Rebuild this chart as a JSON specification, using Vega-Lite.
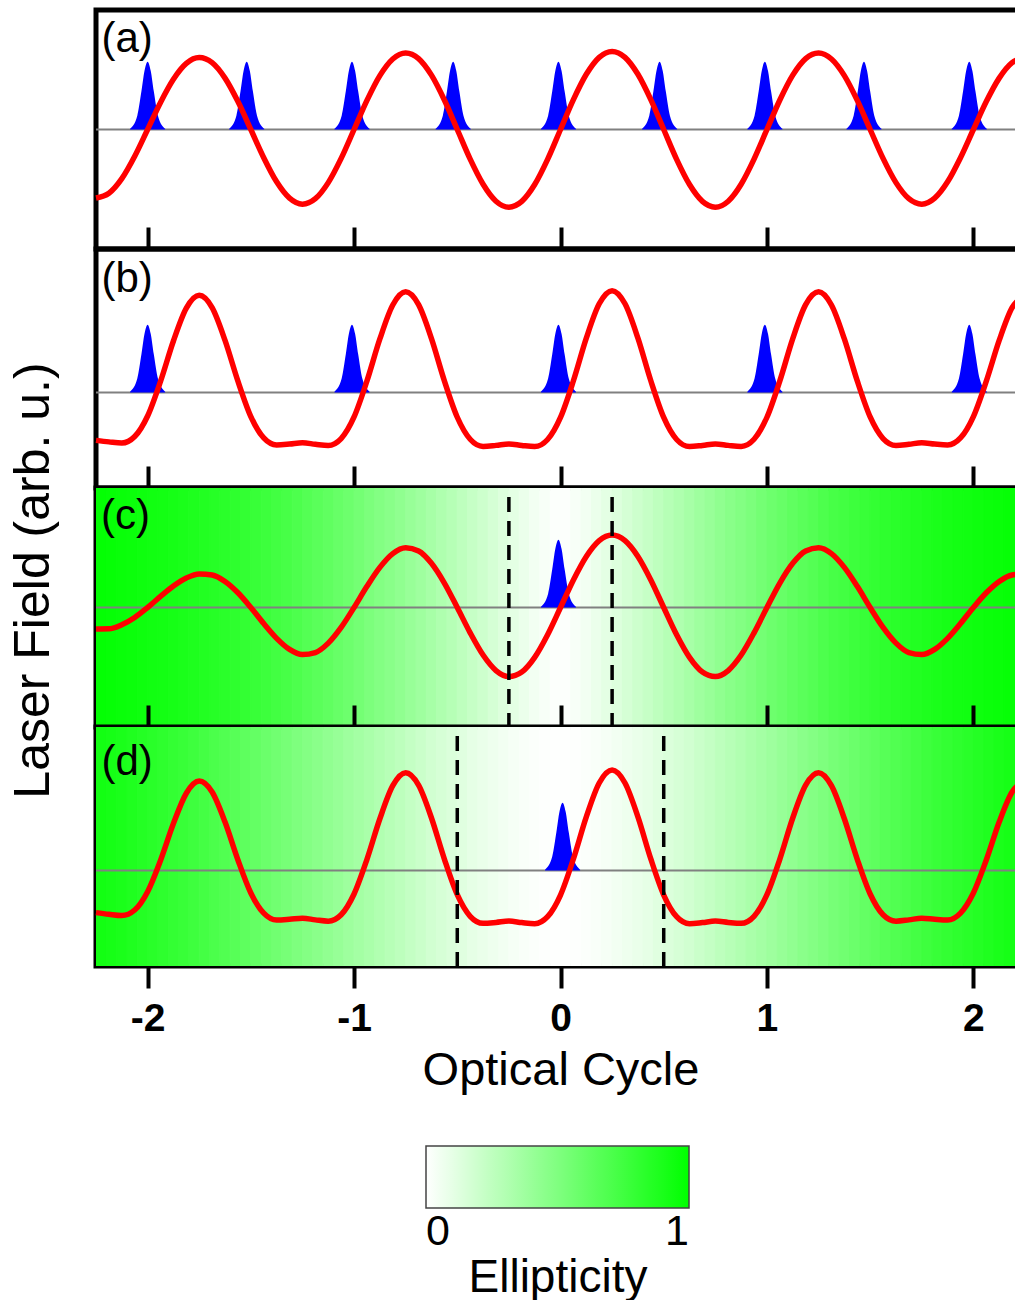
{
  "$schema": "https://vega.github.io/schema/vega-lite/v6.json",
  "background": "white",
  "padding": {"left": 5, "top": 7, "right": 0, "bottom": 0},
  "spacing": 0,
  "bounds": "flush",
  "datasets": {
    "curves": [
      {"t": -2.25, "a": -0.86, "b": -0.602, "c": -0.27, "d": -0.53},
      {"t": -2.1875, "a": -0.8, "b": -0.621, "c": -0.268, "d": -0.551},
      {"t": -2.125, "a": -0.617, "b": -0.636, "c": -0.217, "d": -0.567},
      {"t": -2.0625, "a": -0.336, "b": -0.554, "c": -0.125, "d": -0.497},
      {"t": -2.0, "a": 0, "b": -0.296, "c": 0, "d": -0.267},
      {"t": -1.9375, "a": 0.34, "b": 0.138, "c": 0.139, "d": 0.125},
      {"t": -1.875, "a": 0.631, "b": 0.645, "c": 0.27, "d": 0.588},
      {"t": -1.8125, "a": 0.83, "b": 1.057, "c": 0.371, "d": 0.969},
      {"t": -1.75, "a": 0.903, "b": 1.218, "c": 0.422, "d": 1.121},
      {"t": -1.6875, "a": 0.839, "b": 1.064, "c": 0.408, "d": 0.984},
      {"t": -1.625, "a": 0.645, "b": 0.653, "c": 0.327, "d": 0.607},
      {"t": -1.5625, "a": 0.351, "b": 0.141, "c": 0.185, "d": 0.131},
      {"t": -1.5, "a": 0, "b": -0.303, "c": 0, "d": -0.284},
      {"t": -1.4375, "a": -0.354, "b": -0.572, "c": -0.202, "d": -0.537},
      {"t": -1.375, "a": -0.657, "b": -0.66, "c": -0.387, "d": -0.623},
      {"t": -1.3125, "a": -0.862, "b": -0.649, "c": -0.526, "d": -0.614},
      {"t": -1.25, "a": -0.937, "b": -0.632, "c": -0.59, "d": -0.6},
      {"t": -1.1875, "a": -0.869, "b": -0.651, "c": -0.565, "d": -0.621},
      {"t": -1.125, "a": -0.667, "b": -0.666, "c": -0.447, "d": -0.637},
      {"t": -1.0625, "a": -0.363, "b": -0.579, "c": -0.25, "d": -0.556},
      {"t": -1.0, "a": 0, "b": -0.308, "c": 0, "d": -0.296},
      {"t": -0.9375, "a": 0.365, "b": 0.144, "c": 0.266, "d": 0.139},
      {"t": -0.875, "a": 0.676, "b": 0.671, "c": 0.504, "d": 0.648},
      {"t": -0.8125, "a": 0.885, "b": 1.097, "c": 0.677, "d": 1.063},
      {"t": -0.75, "a": 0.961, "b": 1.262, "c": 0.751, "d": 1.225},
      {"t": -0.6875, "a": 0.89, "b": 1.101, "c": 0.71, "d": 1.07},
      {"t": -0.625, "a": 0.682, "b": 0.675, "c": 0.555, "d": 0.658},
      {"t": -0.5625, "a": 0.37, "b": 0.145, "c": 0.307, "d": 0.142},
      {"t": -0.5, "a": 0, "b": -0.312, "c": 0, "d": -0.305},
      {"t": -0.4375, "a": -0.372, "b": -0.588, "c": -0.318, "d": -0.576},
      {"t": -0.375, "a": -0.687, "b": -0.678, "c": -0.597, "d": -0.664},
      {"t": -0.3125, "a": -0.9, "b": -0.665, "c": -0.791, "d": -0.653},
      {"t": -0.25, "a": -0.975, "b": -0.647, "c": -0.867, "d": -0.636},
      {"t": -0.1875, "a": -0.902, "b": -0.666, "c": -0.81, "d": -0.655},
      {"t": -0.125, "a": -0.691, "b": -0.68, "c": -0.626, "d": -0.669},
      {"t": -0.0625, "a": -0.375, "b": -0.591, "c": -0.342, "d": -0.581},
      {"t": 0, "a": 0, "b": -0.314, "c": 0, "d": -0.309},
      {"t": 0.0625, "a": 0.375, "b": 0.146, "c": 0.346, "d": 0.144},
      {"t": 0.125, "a": 0.693, "b": 0.681, "c": 0.641, "d": 0.672},
      {"t": 0.1875, "a": 0.906, "b": 1.112, "c": 0.84, "d": 1.097},
      {"t": 0.25, "a": 0.98, "b": 1.277, "c": 0.91, "d": 1.26},
      {"t": 0.3125, "a": 0.906, "b": 1.112, "c": 0.84, "d": 1.097},
      {"t": 0.375, "a": 0.693, "b": 0.681, "c": 0.641, "d": 0.672},
      {"t": 0.4375, "a": 0.375, "b": 0.146, "c": 0.346, "d": 0.144},
      {"t": 0.5, "a": 0, "b": -0.314, "c": 0, "d": -0.309},
      {"t": 0.5625, "a": -0.375, "b": -0.591, "c": -0.342, "d": -0.581},
      {"t": 0.625, "a": -0.691, "b": -0.68, "c": -0.626, "d": -0.669},
      {"t": 0.6875, "a": -0.902, "b": -0.666, "c": -0.81, "d": -0.655},
      {"t": 0.75, "a": -0.975, "b": -0.647, "c": -0.867, "d": -0.636},
      {"t": 0.8125, "a": -0.9, "b": -0.665, "c": -0.791, "d": -0.653},
      {"t": 0.875, "a": -0.687, "b": -0.678, "c": -0.597, "d": -0.664},
      {"t": 0.9375, "a": -0.372, "b": -0.588, "c": -0.318, "d": -0.576},
      {"t": 1.0, "a": 0, "b": -0.312, "c": 0, "d": -0.305},
      {"t": 1.0625, "a": 0.37, "b": 0.145, "c": 0.307, "d": 0.142},
      {"t": 1.125, "a": 0.682, "b": 0.675, "c": 0.555, "d": 0.658},
      {"t": 1.1875, "a": 0.89, "b": 1.101, "c": 0.71, "d": 1.07},
      {"t": 1.25, "a": 0.961, "b": 1.262, "c": 0.751, "d": 1.225},
      {"t": 1.3125, "a": 0.885, "b": 1.097, "c": 0.677, "d": 1.063},
      {"t": 1.375, "a": 0.676, "b": 0.671, "c": 0.504, "d": 0.648},
      {"t": 1.4375, "a": 0.365, "b": 0.144, "c": 0.266, "d": 0.139},
      {"t": 1.5, "a": 0, "b": -0.308, "c": 0, "d": -0.296},
      {"t": 1.5625, "a": -0.363, "b": -0.579, "c": -0.25, "d": -0.556},
      {"t": 1.625, "a": -0.667, "b": -0.666, "c": -0.447, "d": -0.637},
      {"t": 1.6875, "a": -0.869, "b": -0.651, "c": -0.565, "d": -0.621},
      {"t": 1.75, "a": -0.937, "b": -0.632, "c": -0.59, "d": -0.6},
      {"t": 1.8125, "a": -0.862, "b": -0.649, "c": -0.526, "d": -0.614},
      {"t": 1.875, "a": -0.657, "b": -0.66, "c": -0.387, "d": -0.623},
      {"t": 1.9375, "a": -0.354, "b": -0.572, "c": -0.202, "d": -0.537},
      {"t": 2.0, "a": 0, "b": -0.303, "c": 0, "d": -0.284},
      {"t": 2.0625, "a": 0.351, "b": 0.141, "c": 0.185, "d": 0.131},
      {"t": 2.125, "a": 0.645, "b": 0.653, "c": 0.327, "d": 0.607},
      {"t": 2.1875, "a": 0.839, "b": 1.064, "c": 0.408, "d": 0.984},
      {"t": 2.25, "a": 0.903, "b": 1.218, "c": 0.422, "d": 1.121}
    ],
    "pulses": [
      {"p": "a", "k": "a1", "t": -2.085, "v": 0.009}, {"p": "a", "k": "a1", "t": -2.05, "v": 0.173}, {"p": "a", "k": "a1", "t": -2.03, "v": 0.479}, {"p": "a", "k": "a1", "t": -2.015, "v": 0.736}, {"p": "a", "k": "a1", "t": -2.0, "v": 0.85}, {"p": "a", "k": "a1", "t": -1.985, "v": 0.736}, {"p": "a", "k": "a1", "t": -1.97, "v": 0.479}, {"p": "a", "k": "a1", "t": -1.95, "v": 0.173}, {"p": "a", "k": "a1", "t": -1.915, "v": 0.009},
      {"p": "a", "k": "a2", "t": -1.605, "v": 0.009}, {"p": "a", "k": "a2", "t": -1.57, "v": 0.173}, {"p": "a", "k": "a2", "t": -1.55, "v": 0.479}, {"p": "a", "k": "a2", "t": -1.535, "v": 0.736}, {"p": "a", "k": "a2", "t": -1.52, "v": 0.85}, {"p": "a", "k": "a2", "t": -1.505, "v": 0.736}, {"p": "a", "k": "a2", "t": -1.49, "v": 0.479}, {"p": "a", "k": "a2", "t": -1.47, "v": 0.173}, {"p": "a", "k": "a2", "t": -1.435, "v": 0.009},
      {"p": "a", "k": "a3", "t": -1.095, "v": 0.009}, {"p": "a", "k": "a3", "t": -1.06, "v": 0.173}, {"p": "a", "k": "a3", "t": -1.04, "v": 0.479}, {"p": "a", "k": "a3", "t": -1.025, "v": 0.736}, {"p": "a", "k": "a3", "t": -1.01, "v": 0.85}, {"p": "a", "k": "a3", "t": -0.995, "v": 0.736}, {"p": "a", "k": "a3", "t": -0.98, "v": 0.479}, {"p": "a", "k": "a3", "t": -0.96, "v": 0.173}, {"p": "a", "k": "a3", "t": -0.925, "v": 0.009},
      {"p": "a", "k": "a4", "t": -0.605, "v": 0.009}, {"p": "a", "k": "a4", "t": -0.57, "v": 0.173}, {"p": "a", "k": "a4", "t": -0.55, "v": 0.479}, {"p": "a", "k": "a4", "t": -0.535, "v": 0.736}, {"p": "a", "k": "a4", "t": -0.52, "v": 0.85}, {"p": "a", "k": "a4", "t": -0.505, "v": 0.736}, {"p": "a", "k": "a4", "t": -0.49, "v": 0.479}, {"p": "a", "k": "a4", "t": -0.47, "v": 0.173}, {"p": "a", "k": "a4", "t": -0.435, "v": 0.009},
      {"p": "a", "k": "a5", "t": -0.095, "v": 0.009}, {"p": "a", "k": "a5", "t": -0.06, "v": 0.173}, {"p": "a", "k": "a5", "t": -0.04, "v": 0.479}, {"p": "a", "k": "a5", "t": -0.025, "v": 0.736}, {"p": "a", "k": "a5", "t": -0.01, "v": 0.85}, {"p": "a", "k": "a5", "t": 0.005, "v": 0.736}, {"p": "a", "k": "a5", "t": 0.02, "v": 0.479}, {"p": "a", "k": "a5", "t": 0.04, "v": 0.173}, {"p": "a", "k": "a5", "t": 0.075, "v": 0.009},
      {"p": "a", "k": "a6", "t": 0.395, "v": 0.009}, {"p": "a", "k": "a6", "t": 0.43, "v": 0.173}, {"p": "a", "k": "a6", "t": 0.45, "v": 0.479}, {"p": "a", "k": "a6", "t": 0.465, "v": 0.736}, {"p": "a", "k": "a6", "t": 0.48, "v": 0.85}, {"p": "a", "k": "a6", "t": 0.495, "v": 0.736}, {"p": "a", "k": "a6", "t": 0.51, "v": 0.479}, {"p": "a", "k": "a6", "t": 0.53, "v": 0.173}, {"p": "a", "k": "a6", "t": 0.565, "v": 0.009},
      {"p": "a", "k": "a7", "t": 0.905, "v": 0.009}, {"p": "a", "k": "a7", "t": 0.94, "v": 0.173}, {"p": "a", "k": "a7", "t": 0.96, "v": 0.479}, {"p": "a", "k": "a7", "t": 0.975, "v": 0.736}, {"p": "a", "k": "a7", "t": 0.99, "v": 0.85}, {"p": "a", "k": "a7", "t": 1.005, "v": 0.736}, {"p": "a", "k": "a7", "t": 1.02, "v": 0.479}, {"p": "a", "k": "a7", "t": 1.04, "v": 0.173}, {"p": "a", "k": "a7", "t": 1.075, "v": 0.009},
      {"p": "a", "k": "a8", "t": 1.385, "v": 0.009}, {"p": "a", "k": "a8", "t": 1.42, "v": 0.173}, {"p": "a", "k": "a8", "t": 1.44, "v": 0.479}, {"p": "a", "k": "a8", "t": 1.455, "v": 0.736}, {"p": "a", "k": "a8", "t": 1.47, "v": 0.85}, {"p": "a", "k": "a8", "t": 1.485, "v": 0.736}, {"p": "a", "k": "a8", "t": 1.5, "v": 0.479}, {"p": "a", "k": "a8", "t": 1.52, "v": 0.173}, {"p": "a", "k": "a8", "t": 1.555, "v": 0.009},
      {"p": "a", "k": "a9", "t": 1.895, "v": 0.009}, {"p": "a", "k": "a9", "t": 1.93, "v": 0.173}, {"p": "a", "k": "a9", "t": 1.95, "v": 0.479}, {"p": "a", "k": "a9", "t": 1.965, "v": 0.736}, {"p": "a", "k": "a9", "t": 1.98, "v": 0.85}, {"p": "a", "k": "a9", "t": 1.995, "v": 0.736}, {"p": "a", "k": "a9", "t": 2.01, "v": 0.479}, {"p": "a", "k": "a9", "t": 2.03, "v": 0.173}, {"p": "a", "k": "a9", "t": 2.065, "v": 0.009},
      {"p": "b", "k": "b1", "t": -2.085, "v": 0.009}, {"p": "b", "k": "b1", "t": -2.05, "v": 0.173}, {"p": "b", "k": "b1", "t": -2.03, "v": 0.479}, {"p": "b", "k": "b1", "t": -2.015, "v": 0.736}, {"p": "b", "k": "b1", "t": -2.0, "v": 0.85}, {"p": "b", "k": "b1", "t": -1.985, "v": 0.736}, {"p": "b", "k": "b1", "t": -1.97, "v": 0.479}, {"p": "b", "k": "b1", "t": -1.95, "v": 0.173}, {"p": "b", "k": "b1", "t": -1.915, "v": 0.009},
      {"p": "b", "k": "b2", "t": -1.095, "v": 0.009}, {"p": "b", "k": "b2", "t": -1.06, "v": 0.173}, {"p": "b", "k": "b2", "t": -1.04, "v": 0.479}, {"p": "b", "k": "b2", "t": -1.025, "v": 0.736}, {"p": "b", "k": "b2", "t": -1.01, "v": 0.85}, {"p": "b", "k": "b2", "t": -0.995, "v": 0.736}, {"p": "b", "k": "b2", "t": -0.98, "v": 0.479}, {"p": "b", "k": "b2", "t": -0.96, "v": 0.173}, {"p": "b", "k": "b2", "t": -0.925, "v": 0.009},
      {"p": "b", "k": "b3", "t": -0.095, "v": 0.009}, {"p": "b", "k": "b3", "t": -0.06, "v": 0.173}, {"p": "b", "k": "b3", "t": -0.04, "v": 0.479}, {"p": "b", "k": "b3", "t": -0.025, "v": 0.736}, {"p": "b", "k": "b3", "t": -0.01, "v": 0.85}, {"p": "b", "k": "b3", "t": 0.005, "v": 0.736}, {"p": "b", "k": "b3", "t": 0.02, "v": 0.479}, {"p": "b", "k": "b3", "t": 0.04, "v": 0.173}, {"p": "b", "k": "b3", "t": 0.075, "v": 0.009},
      {"p": "b", "k": "b4", "t": 0.905, "v": 0.009}, {"p": "b", "k": "b4", "t": 0.94, "v": 0.173}, {"p": "b", "k": "b4", "t": 0.96, "v": 0.479}, {"p": "b", "k": "b4", "t": 0.975, "v": 0.736}, {"p": "b", "k": "b4", "t": 0.99, "v": 0.85}, {"p": "b", "k": "b4", "t": 1.005, "v": 0.736}, {"p": "b", "k": "b4", "t": 1.02, "v": 0.479}, {"p": "b", "k": "b4", "t": 1.04, "v": 0.173}, {"p": "b", "k": "b4", "t": 1.075, "v": 0.009},
      {"p": "b", "k": "b5", "t": 1.895, "v": 0.009}, {"p": "b", "k": "b5", "t": 1.93, "v": 0.173}, {"p": "b", "k": "b5", "t": 1.95, "v": 0.479}, {"p": "b", "k": "b5", "t": 1.965, "v": 0.736}, {"p": "b", "k": "b5", "t": 1.98, "v": 0.85}, {"p": "b", "k": "b5", "t": 1.995, "v": 0.736}, {"p": "b", "k": "b5", "t": 2.01, "v": 0.479}, {"p": "b", "k": "b5", "t": 2.03, "v": 0.173}, {"p": "b", "k": "b5", "t": 2.065, "v": 0.009},
      {"p": "c", "k": "c1", "t": -0.095, "v": 0.009}, {"p": "c", "k": "c1", "t": -0.06, "v": 0.173}, {"p": "c", "k": "c1", "t": -0.04, "v": 0.479}, {"p": "c", "k": "c1", "t": -0.025, "v": 0.736}, {"p": "c", "k": "c1", "t": -0.01, "v": 0.85}, {"p": "c", "k": "c1", "t": 0.005, "v": 0.736}, {"p": "c", "k": "c1", "t": 0.02, "v": 0.479}, {"p": "c", "k": "c1", "t": 0.04, "v": 0.173}, {"p": "c", "k": "c1", "t": 0.075, "v": 0.009},
      {"p": "d", "k": "d1", "t": -0.075, "v": 0.009}, {"p": "d", "k": "d1", "t": -0.04, "v": 0.173}, {"p": "d", "k": "d1", "t": -0.02, "v": 0.479}, {"p": "d", "k": "d1", "t": -0.005, "v": 0.736}, {"p": "d", "k": "d1", "t": 0.01, "v": 0.85}, {"p": "d", "k": "d1", "t": 0.025, "v": 0.736}, {"p": "d", "k": "d1", "t": 0.04, "v": 0.479}, {"p": "d", "k": "d1", "t": 0.06, "v": 0.173}, {"p": "d", "k": "d1", "t": 0.095, "v": 0.009}
    ],
    "ellip": [
      {"t": -2.3, "t2": -2.25, "c": 0.995, "d": 0.942},
      {"t": -2.25, "t2": -2.2, "c": 0.985, "d": 0.927},
      {"t": -2.2, "t2": -2.15, "c": 0.975, "d": 0.912},
      {"t": -2.15, "t2": -2.1, "c": 0.965, "d": 0.897},
      {"t": -2.1, "t2": -2.05, "c": 0.955, "d": 0.88},
      {"t": -2.05, "t2": -2.0, "c": 0.945, "d": 0.86},
      {"t": -2.0, "t2": -1.95, "c": 0.935, "d": 0.84},
      {"t": -1.95, "t2": -1.9, "c": 0.925, "d": 0.82},
      {"t": -1.9, "t2": -1.85, "c": 0.912, "d": 0.8},
      {"t": -1.85, "t2": -1.8, "c": 0.897, "d": 0.78},
      {"t": -1.8, "t2": -1.75, "c": 0.882, "d": 0.757},
      {"t": -1.75, "t2": -1.7, "c": 0.867, "d": 0.732},
      {"t": -1.7, "t2": -1.65, "c": 0.852, "d": 0.707},
      {"t": -1.65, "t2": -1.6, "c": 0.837, "d": 0.682},
      {"t": -1.6, "t2": -1.55, "c": 0.82, "d": 0.657},
      {"t": -1.55, "t2": -1.5, "c": 0.8, "d": 0.632},
      {"t": -1.5, "t2": -1.45, "c": 0.78, "d": 0.607},
      {"t": -1.45, "t2": -1.4, "c": 0.76, "d": 0.582},
      {"t": -1.4, "t2": -1.35, "c": 0.74, "d": 0.557},
      {"t": -1.35, "t2": -1.3, "c": 0.72, "d": 0.532},
      {"t": -1.3, "t2": -1.25, "c": 0.697, "d": 0.507},
      {"t": -1.25, "t2": -1.2, "c": 0.672, "d": 0.482},
      {"t": -1.2, "t2": -1.15, "c": 0.647, "d": 0.457},
      {"t": -1.15, "t2": -1.1, "c": 0.622, "d": 0.432},
      {"t": -1.1, "t2": -1.05, "c": 0.597, "d": 0.407},
      {"t": -1.05, "t2": -1.0, "c": 0.572, "d": 0.382},
      {"t": -1.0, "t2": -0.95, "c": 0.545, "d": 0.357},
      {"t": -0.95, "t2": -0.9, "c": 0.515, "d": 0.332},
      {"t": -0.9, "t2": -0.85, "c": 0.487, "d": 0.307},
      {"t": -0.85, "t2": -0.8, "c": 0.462, "d": 0.282},
      {"t": -0.8, "t2": -0.75, "c": 0.435, "d": 0.257},
      {"t": -0.75, "t2": -0.7, "c": 0.405, "d": 0.232},
      {"t": -0.7, "t2": -0.65, "c": 0.375, "d": 0.207},
      {"t": -0.65, "t2": -0.6, "c": 0.345, "d": 0.182},
      {"t": -0.6, "t2": -0.55, "c": 0.315, "d": 0.16},
      {"t": -0.55, "t2": -0.5, "c": 0.285, "d": 0.14},
      {"t": -0.5, "t2": -0.45, "c": 0.255, "d": 0.12},
      {"t": -0.45, "t2": -0.4, "c": 0.225, "d": 0.1},
      {"t": -0.4, "t2": -0.35, "c": 0.195, "d": 0.082},
      {"t": -0.35, "t2": -0.3, "c": 0.165, "d": 0.067},
      {"t": -0.3, "t2": -0.25, "c": 0.135, "d": 0.052},
      {"t": -0.25, "t2": -0.2, "c": 0.105, "d": 0.037},
      {"t": -0.2, "t2": -0.15, "c": 0.077, "d": 0.025},
      {"t": -0.15, "t2": -0.1, "c": 0.052, "d": 0.015},
      {"t": -0.1, "t2": -0.05, "c": 0.03, "d": 0.008},
      {"t": -0.05, "t2": 0.0, "c": 0.01, "d": 0.003},
      {"t": 0.0, "t2": 0.05, "c": 0.01, "d": 0.003},
      {"t": 0.05, "t2": 0.1, "c": 0.03, "d": 0.008},
      {"t": 0.1, "t2": 0.15, "c": 0.052, "d": 0.015},
      {"t": 0.15, "t2": 0.2, "c": 0.077, "d": 0.025},
      {"t": 0.2, "t2": 0.25, "c": 0.105, "d": 0.037},
      {"t": 0.25, "t2": 0.3, "c": 0.135, "d": 0.052},
      {"t": 0.3, "t2": 0.35, "c": 0.165, "d": 0.067},
      {"t": 0.35, "t2": 0.4, "c": 0.195, "d": 0.082},
      {"t": 0.4, "t2": 0.45, "c": 0.225, "d": 0.1},
      {"t": 0.45, "t2": 0.5, "c": 0.255, "d": 0.12},
      {"t": 0.5, "t2": 0.55, "c": 0.285, "d": 0.14},
      {"t": 0.55, "t2": 0.6, "c": 0.315, "d": 0.16},
      {"t": 0.6, "t2": 0.65, "c": 0.345, "d": 0.182},
      {"t": 0.65, "t2": 0.7, "c": 0.375, "d": 0.207},
      {"t": 0.7, "t2": 0.75, "c": 0.405, "d": 0.232},
      {"t": 0.75, "t2": 0.8, "c": 0.435, "d": 0.257},
      {"t": 0.8, "t2": 0.85, "c": 0.462, "d": 0.282},
      {"t": 0.85, "t2": 0.9, "c": 0.487, "d": 0.307},
      {"t": 0.9, "t2": 0.95, "c": 0.515, "d": 0.332},
      {"t": 0.95, "t2": 1.0, "c": 0.545, "d": 0.357},
      {"t": 1.0, "t2": 1.05, "c": 0.572, "d": 0.382},
      {"t": 1.05, "t2": 1.1, "c": 0.597, "d": 0.407},
      {"t": 1.1, "t2": 1.15, "c": 0.622, "d": 0.432},
      {"t": 1.15, "t2": 1.2, "c": 0.647, "d": 0.457},
      {"t": 1.2, "t2": 1.25, "c": 0.672, "d": 0.482},
      {"t": 1.25, "t2": 1.3, "c": 0.697, "d": 0.507},
      {"t": 1.3, "t2": 1.35, "c": 0.72, "d": 0.532},
      {"t": 1.35, "t2": 1.4, "c": 0.74, "d": 0.557},
      {"t": 1.4, "t2": 1.45, "c": 0.76, "d": 0.582},
      {"t": 1.45, "t2": 1.5, "c": 0.78, "d": 0.607},
      {"t": 1.5, "t2": 1.55, "c": 0.8, "d": 0.632},
      {"t": 1.55, "t2": 1.6, "c": 0.82, "d": 0.657},
      {"t": 1.6, "t2": 1.65, "c": 0.837, "d": 0.682},
      {"t": 1.65, "t2": 1.7, "c": 0.852, "d": 0.707},
      {"t": 1.7, "t2": 1.75, "c": 0.867, "d": 0.732},
      {"t": 1.75, "t2": 1.8, "c": 0.882, "d": 0.757},
      {"t": 1.8, "t2": 1.85, "c": 0.897, "d": 0.78},
      {"t": 1.85, "t2": 1.9, "c": 0.912, "d": 0.8},
      {"t": 1.9, "t2": 1.95, "c": 0.925, "d": 0.82},
      {"t": 1.95, "t2": 2.0, "c": 0.935, "d": 0.84},
      {"t": 2.0, "t2": 2.05, "c": 0.945, "d": 0.86},
      {"t": 2.05, "t2": 2.1, "c": 0.955, "d": 0.88},
      {"t": 2.1, "t2": 2.15, "c": 0.965, "d": 0.897},
      {"t": 2.15, "t2": 2.2, "c": 0.975, "d": 0.912},
      {"t": 2.2, "t2": 2.25, "c": 0.985, "d": 0.927},
      {"t": 2.25, "t2": 2.3, "c": 0.995, "d": 0.942}
    ],
    "gates": [
      {"p": "c", "t": -0.25}, {"p": "c", "t": 0.25},
      {"p": "d", "t": -0.5}, {"p": "d", "t": 0.5}
    ]
  },
  "vconcat": [
    {
      "width": 929, "height": 239,
      "layer": [
        {"data": {"values": [{}]}, "mark": {"type": "rule", "stroke": "#808080", "strokeWidth": 2},
         "encoding": {"y": {"datum": 0, "type": "quantitative", "scale": {"domain": [-1.5, 1.5]}, "axis": null}}},
        {"data": {"name": "pulses"}, "transform": [{"filter": "datum.p === 'a'"}],
         "mark": {"type": "area", "color": "#0000ff", "interpolate": "monotone"},
         "encoding": {
           "x": {"field": "t", "type": "quantitative", "scale": {"domain": [-2.25, 2.25]},
                 "axis": {"values": [-2, -1, 0, 1, 2], "labels": false, "title": null, "tickSize": 22, "offset": -22, "tickWidth": 4, "tickColor": "black", "domain": false, "grid": false, "zindex": 2}},
           "y": {"field": "v", "type": "quantitative", "scale": {"domain": [-1.5, 1.5]}, "axis": null},
           "y2": {"datum": 0},
           "detail": {"field": "k"}}},
        {"data": {"name": "curves"},
         "mark": {"type": "line", "color": "#ff0000", "strokeWidth": 5.5, "interpolate": "monotone"},
         "encoding": {
           "x": {"field": "t", "type": "quantitative", "scale": {"domain": [-2.25, 2.25]},
                 "axis": {"values": [-2, -1, 0, 1, 2], "labels": false, "title": null, "tickSize": 22, "offset": -22, "tickWidth": 4, "tickColor": "black", "domain": false, "grid": false, "zindex": 2}},
           "y": {"field": "a", "type": "quantitative", "scale": {"domain": [-1.5, 1.5]}, "axis": null}}},
        {"data": {"values": [{"label": "(a)"}]},
         "mark": {"type": "text", "align": "left", "baseline": "alphabetic", "dx": 5.5, "dy": 41.5, "fontSize": 42, "font": "Liberation Sans", "color": "black"},
         "encoding": {
           "x": {"datum": -2.25, "type": "quantitative", "scale": {"domain": [-2.25, 2.25]},
                 "axis": {"values": [-2, -1, 0, 1, 2], "labels": false, "title": null, "tickSize": 22, "offset": -22, "tickWidth": 4, "tickColor": "black", "domain": false, "grid": false, "zindex": 2}},
           "y": {"datum": 1.5, "type": "quantitative", "scale": {"domain": [-1.5, 1.5]}, "axis": null},
           "text": {"field": "label"}}}
      ]
    },
    {
      "width": 929, "height": 239,
      "layer": [
        {"data": {"values": [{}]}, "mark": {"type": "rule", "stroke": "#808080", "strokeWidth": 2},
         "encoding": {"y": {"datum": 0, "type": "quantitative", "scale": {"domain": [-1.2, 1.8]}, "axis": null}}},
        {"data": {"name": "pulses"}, "transform": [{"filter": "datum.p === 'b'"}],
         "mark": {"type": "area", "color": "#0000ff", "interpolate": "monotone"},
         "encoding": {
           "x": {"field": "t", "type": "quantitative", "scale": {"domain": [-2.25, 2.25]},
                 "axis": {"values": [-2, -1, 0, 1, 2], "labels": false, "title": null, "tickSize": 22, "offset": -22, "tickWidth": 4, "tickColor": "black", "domain": false, "grid": false, "zindex": 2}},
           "y": {"field": "v", "type": "quantitative", "scale": {"domain": [-1.2, 1.8]}, "axis": null},
           "y2": {"datum": 0},
           "detail": {"field": "k"}}},
        {"data": {"name": "curves"},
         "mark": {"type": "line", "color": "#ff0000", "strokeWidth": 5.5, "interpolate": "monotone"},
         "encoding": {
           "x": {"field": "t", "type": "quantitative", "scale": {"domain": [-2.25, 2.25]},
                 "axis": {"values": [-2, -1, 0, 1, 2], "labels": false, "title": null, "tickSize": 22, "offset": -22, "tickWidth": 4, "tickColor": "black", "domain": false, "grid": false, "zindex": 2}},
           "y": {"field": "b", "type": "quantitative", "scale": {"domain": [-1.2, 1.8]}, "axis": null}}},
        {"data": {"values": [{"label": "(b)"}]},
         "mark": {"type": "text", "align": "left", "baseline": "alphabetic", "dx": 5.5, "dy": 43, "fontSize": 42, "font": "Liberation Sans", "color": "black"},
         "encoding": {
           "x": {"datum": -2.25, "type": "quantitative", "scale": {"domain": [-2.25, 2.25]},
                 "axis": {"values": [-2, -1, 0, 1, 2], "labels": false, "title": null, "tickSize": 22, "offset": -22, "tickWidth": 4, "tickColor": "black", "domain": false, "grid": false, "zindex": 2}},
           "y": {"datum": 1.8, "type": "quantitative", "scale": {"domain": [-1.2, 1.8]}, "axis": null},
           "text": {"field": "label"}}}
      ]
    },
    {
      "width": 929, "height": 239,
      "layer": [
        {"data": {"name": "ellip"},
         "mark": {"type": "rect", "clip": true, "strokeWidth": 1, "stroke": {"expr": "scale('color', datum.c)"}},
         "encoding": {
           "x": {"field": "t", "type": "quantitative", "scale": {"domain": [-2.25, 2.25]},
                 "axis": {"values": [-2, -1, 0, 1, 2], "labels": false, "title": null, "tickSize": 22, "offset": -22, "tickWidth": 4, "tickColor": "black", "domain": false, "grid": false, "zindex": 2}},
           "x2": {"field": "t2"},
           "color": {"field": "c", "type": "quantitative", "scale": {"type": "linear", "domain": [0, 1], "range": ["#ffffff", "#00ff00"], "interpolate": "rgb"},
                     "legend": {"title": "Ellipticity", "orient": "none", "legendX": 330, "legendY": 1136, "direction": "horizontal", "gradientLength": 263, "gradientThickness": 62, "titleOrient": "bottom", "titleAnchor": "middle", "values": [0, 1], "format": "d", "labelFontSize": 43, "titleFontSize": 46, "titleFontWeight": "normal", "labelFont": "Liberation Sans", "titleFont": "Liberation Sans", "gradientStrokeColor": "#444444", "gradientStrokeWidth": 1.5, "labelColor": "black", "titleColor": "black", "labelOffset": 3, "titlePadding": 2}}}},
        {"data": {"values": [{}]}, "mark": {"type": "rule", "stroke": "#808080", "strokeWidth": 2},
         "encoding": {"y": {"datum": 0, "type": "quantitative", "scale": {"domain": [-1.5, 1.5]},
                 "axis": {"title": "Laser Field (arb. u.)", "labels": false, "ticks": false, "domain": false, "grid": false, "titleX": -47.5, "titleY": 92, "titleAngle": 270, "titleAlign": "center", "titleBaseline": "alphabetic", "titleFontSize": 50, "titleFontWeight": "normal", "titleFont": "Liberation Sans", "titleColor": "black"}}}},
        {"data": {"name": "pulses"}, "transform": [{"filter": "datum.p === 'c'"}],
         "mark": {"type": "area", "color": "#0000ff", "interpolate": "monotone"},
         "encoding": {
           "x": {"field": "t", "type": "quantitative", "scale": {"domain": [-2.25, 2.25]},
                 "axis": {"values": [-2, -1, 0, 1, 2], "labels": false, "title": null, "tickSize": 22, "offset": -22, "tickWidth": 4, "tickColor": "black", "domain": false, "grid": false, "zindex": 2}},
           "y": {"field": "v", "type": "quantitative", "scale": {"domain": [-1.5, 1.5]},
                 "axis": {"title": "Laser Field (arb. u.)", "labels": false, "ticks": false, "domain": false, "grid": false, "titleX": -47.5, "titleY": 92, "titleAngle": 270, "titleAlign": "center", "titleBaseline": "alphabetic", "titleFontSize": 50, "titleFontWeight": "normal", "titleFont": "Liberation Sans", "titleColor": "black"}},
           "y2": {"datum": 0},
           "detail": {"field": "k"}}},
        {"data": {"name": "curves"},
         "mark": {"type": "line", "color": "#ff0000", "strokeWidth": 5.5, "interpolate": "monotone"},
         "encoding": {
           "x": {"field": "t", "type": "quantitative", "scale": {"domain": [-2.25, 2.25]},
                 "axis": {"values": [-2, -1, 0, 1, 2], "labels": false, "title": null, "tickSize": 22, "offset": -22, "tickWidth": 4, "tickColor": "black", "domain": false, "grid": false, "zindex": 2}},
           "y": {"field": "c", "type": "quantitative", "scale": {"domain": [-1.5, 1.5]},
                 "axis": {"title": "Laser Field (arb. u.)", "labels": false, "ticks": false, "domain": false, "grid": false, "titleX": -47.5, "titleY": 92, "titleAngle": 270, "titleAlign": "center", "titleBaseline": "alphabetic", "titleFontSize": 50, "titleFontWeight": "normal", "titleFont": "Liberation Sans", "titleColor": "black"}}}},
        {"data": {"name": "gates"}, "transform": [{"filter": "datum.p === 'c'"}],
         "mark": {"type": "rule", "stroke": "black", "strokeWidth": 3.5, "strokeDash": [15, 9], "strokeDashOffset": 15},
         "encoding": {
           "x": {"field": "t", "type": "quantitative", "scale": {"domain": [-2.25, 2.25]},
                 "axis": {"values": [-2, -1, 0, 1, 2], "labels": false, "title": null, "tickSize": 22, "offset": -22, "tickWidth": 4, "tickColor": "black", "domain": false, "grid": false, "zindex": 2}}}},
        {"data": {"values": [{"label": "(c)"}]},
         "mark": {"type": "text", "align": "left", "baseline": "alphabetic", "dx": 5, "dy": 41, "fontSize": 42, "font": "Liberation Sans", "color": "black"},
         "encoding": {
           "x": {"datum": -2.25, "type": "quantitative", "scale": {"domain": [-2.25, 2.25]},
                 "axis": {"values": [-2, -1, 0, 1, 2], "labels": false, "title": null, "tickSize": 22, "offset": -22, "tickWidth": 4, "tickColor": "black", "domain": false, "grid": false, "zindex": 2}},
           "y": {"datum": 1.5, "type": "quantitative", "scale": {"domain": [-1.5, 1.5]},
                 "axis": {"title": "Laser Field (arb. u.)", "labels": false, "ticks": false, "domain": false, "grid": false, "titleX": -47.5, "titleY": 92, "titleAngle": 270, "titleAlign": "center", "titleBaseline": "alphabetic", "titleFontSize": 50, "titleFontWeight": "normal", "titleFont": "Liberation Sans", "titleColor": "black"}},
           "text": {"field": "label"}}}
      ]
    },
    {
      "width": 929, "height": 239,
      "layer": [
        {"data": {"name": "ellip"},
         "mark": {"type": "rect", "clip": true, "strokeWidth": 1, "stroke": {"expr": "scale('color', datum.d)"}},
         "encoding": {
           "x": {"field": "t", "type": "quantitative", "scale": {"domain": [-2.25, 2.25]},
                 "axis": {"values": [-2, -1, 0, 1, 2], "title": "Optical Cycle", "tickSize": 22, "tickWidth": 4, "tickColor": "black", "domain": false, "grid": false, "zindex": 2, "labelFontSize": 39, "labelFontWeight": "bold", "labelPadding": 11, "labelExpr": "toString(datum.value)", "labelFont": "Liberation Sans", "labelColor": "black", "titleFontSize": 47, "titleFontWeight": "normal", "titlePadding": 9, "titleFont": "Liberation Sans", "titleColor": "black"}},
           "x2": {"field": "t2"},
           "color": {"field": "d", "type": "quantitative", "scale": {"type": "linear", "domain": [0, 1], "range": ["#ffffff", "#00ff00"], "interpolate": "rgb"},
                     "legend": {"title": "Ellipticity", "orient": "none", "legendX": 330, "legendY": 1136, "direction": "horizontal", "gradientLength": 263, "gradientThickness": 62, "titleOrient": "bottom", "titleAnchor": "middle", "values": [0, 1], "format": "d", "labelFontSize": 43, "titleFontSize": 46, "titleFontWeight": "normal", "labelFont": "Liberation Sans", "titleFont": "Liberation Sans", "gradientStrokeColor": "#444444", "gradientStrokeWidth": 1.5, "labelColor": "black", "titleColor": "black", "labelOffset": 3, "titlePadding": 2}}}},
        {"data": {"values": [{}]}, "mark": {"type": "rule", "stroke": "#808080", "strokeWidth": 2},
         "encoding": {"y": {"datum": 0, "type": "quantitative", "scale": {"domain": [-1.2, 1.8]}, "axis": null}}},
        {"data": {"name": "pulses"}, "transform": [{"filter": "datum.p === 'd'"}],
         "mark": {"type": "area", "color": "#0000ff", "interpolate": "monotone"},
         "encoding": {
           "x": {"field": "t", "type": "quantitative", "scale": {"domain": [-2.25, 2.25]},
                 "axis": {"values": [-2, -1, 0, 1, 2], "title": "Optical Cycle", "tickSize": 22, "tickWidth": 4, "tickColor": "black", "domain": false, "grid": false, "zindex": 2, "labelFontSize": 39, "labelFontWeight": "bold", "labelPadding": 11, "labelExpr": "toString(datum.value)", "labelFont": "Liberation Sans", "labelColor": "black", "titleFontSize": 47, "titleFontWeight": "normal", "titlePadding": 9, "titleFont": "Liberation Sans", "titleColor": "black"}},
           "y": {"field": "v", "type": "quantitative", "scale": {"domain": [-1.2, 1.8]}, "axis": null},
           "y2": {"datum": 0},
           "detail": {"field": "k"}}},
        {"data": {"name": "curves"},
         "mark": {"type": "line", "color": "#ff0000", "strokeWidth": 5.5, "interpolate": "monotone"},
         "encoding": {
           "x": {"field": "t", "type": "quantitative", "scale": {"domain": [-2.25, 2.25]},
                 "axis": {"values": [-2, -1, 0, 1, 2], "title": "Optical Cycle", "tickSize": 22, "tickWidth": 4, "tickColor": "black", "domain": false, "grid": false, "zindex": 2, "labelFontSize": 39, "labelFontWeight": "bold", "labelPadding": 11, "labelExpr": "toString(datum.value)", "labelFont": "Liberation Sans", "labelColor": "black", "titleFontSize": 47, "titleFontWeight": "normal", "titlePadding": 9, "titleFont": "Liberation Sans", "titleColor": "black"}},
           "y": {"field": "d", "type": "quantitative", "scale": {"domain": [-1.2, 1.8]}, "axis": null}}},
        {"data": {"name": "gates"}, "transform": [{"filter": "datum.p === 'd'"}],
         "mark": {"type": "rule", "stroke": "black", "strokeWidth": 3.5, "strokeDash": [15, 9], "strokeDashOffset": 15},
         "encoding": {
           "x": {"field": "t", "type": "quantitative", "scale": {"domain": [-2.25, 2.25]},
                 "axis": {"values": [-2, -1, 0, 1, 2], "title": "Optical Cycle", "tickSize": 22, "tickWidth": 4, "tickColor": "black", "domain": false, "grid": false, "zindex": 2, "labelFontSize": 39, "labelFontWeight": "bold", "labelPadding": 11, "labelExpr": "toString(datum.value)", "labelFont": "Liberation Sans", "labelColor": "black", "titleFontSize": 47, "titleFontWeight": "normal", "titlePadding": 9, "titleFont": "Liberation Sans", "titleColor": "black"}}}},
        {"data": {"values": [{"label": "(d)"}]},
         "mark": {"type": "text", "align": "left", "baseline": "alphabetic", "dx": 5.5, "dy": 48, "fontSize": 42, "font": "Liberation Sans", "color": "black"},
         "encoding": {
           "x": {"datum": -2.25, "type": "quantitative", "scale": {"domain": [-2.25, 2.25]},
                 "axis": {"values": [-2, -1, 0, 1, 2], "title": "Optical Cycle", "tickSize": 22, "tickWidth": 4, "tickColor": "black", "domain": false, "grid": false, "zindex": 2, "labelFontSize": 39, "labelFontWeight": "bold", "labelPadding": 11, "labelExpr": "toString(datum.value)", "labelFont": "Liberation Sans", "labelColor": "black", "titleFontSize": 47, "titleFontWeight": "normal", "titlePadding": 9, "titleFont": "Liberation Sans", "titleColor": "black"}},
           "y": {"datum": 1.8, "type": "quantitative", "scale": {"domain": [-1.2, 1.8]}, "axis": null},
           "text": {"field": "label"}}}
      ]
    }
  ],
  "resolve": {"scale": {"y": "independent", "x": "independent", "color": "shared"}},
  "config": {
    "view": {"stroke": "black", "strokeWidth": 5},
    "font": "Liberation Sans",
    "axis": {"grid": false}
  }
}
